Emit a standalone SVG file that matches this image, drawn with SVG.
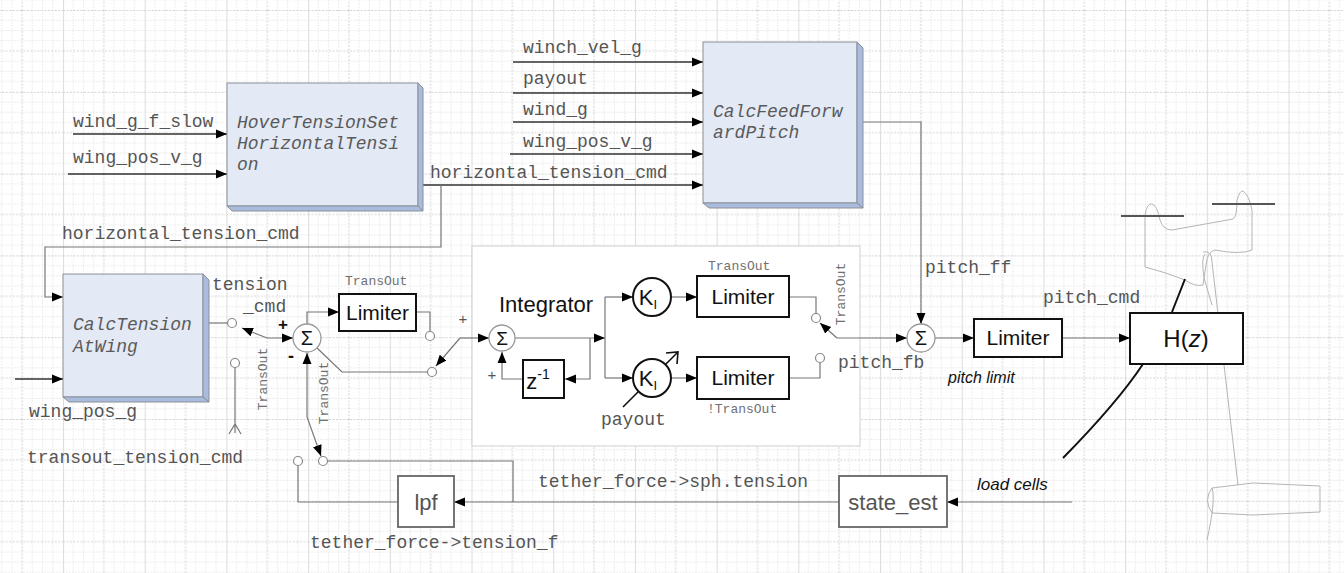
<svg xmlns="http://www.w3.org/2000/svg" width="1344" height="573" viewBox="0 0 1344 573">
  <defs>
    <!-- drafting grid: fine dotted cells, heavier dotted every 4 cells, light solid verticals every 8 -->
    <pattern id="grid" patternUnits="userSpaceOnUse" x="-18.7" y="10" width="81.7" height="81.8">
      <g stroke="#e6e6e6" stroke-width="1" stroke-dasharray="1.5,1.5">
        <path d="M10.2,0V81.8M20.4,0V81.8M30.6,0V81.8M51,0V81.8M61.3,0V81.8M71.5,0V81.8"/>
        <path d="M0,10.2H81.7M0,20.4H81.7M0,30.7H81.7M0,51.1H81.7M0,61.4H81.7M0,71.6H81.7"/>
      </g>
      <g stroke="#d2d2d2" stroke-width="1" stroke-dasharray="2,1.5">
        <path d="M40.85,0V81.8M0,0.5H81.7M0,40.9H81.7"/>
      </g>
      <path d="M0.5,0V81.8" stroke="#dedede" stroke-width="1.2"/>
    </pattern>
    <marker id="arr" markerUnits="userSpaceOnUse" markerWidth="12" markerHeight="10" refX="11" refY="5" orient="auto-start-reverse">
      <path d="M0,0.5 L11,5 L0,9.5 z" fill="#000"/>
    </marker>
  </defs>
  <style>
    .mono { font-family: "Liberation Mono", "Courier New", monospace; font-size: 18px; fill: #555; }
    .small { font-family: "Liberation Mono", "Courier New", monospace; font-size: 13px; fill: #707070; }
    .boxlbl { font-family: "Liberation Mono", "Courier New", monospace; font-size: 18px; font-style: italic; fill: #5a5a5a; }
    .sans { font-family: "Liberation Sans", Arial, sans-serif; fill: #111; }
    .grey { fill: #555; }
    .wire { fill: none; stroke: #777; stroke-width: 1.2; }
    .dark { fill: none; stroke: #333; stroke-width: 1.3; }
    .port { fill: #fff; stroke: #888; stroke-width: 1.2; }
    .blk { fill: #fff; stroke: #111; stroke-width: 2; }
    .gblk { fill: #fff; stroke: #666; stroke-width: 1.8; }
    .face { fill: #e3e9f5; stroke: #8a8f99; stroke-width: 1; }
    .bevel { fill: #a9bcdd; stroke: #8a8f99; stroke-width: 1; }
    .sum { fill: #fff; stroke: #999; stroke-width: 1.3; }
    .sketch { fill: none; stroke: #b5b5b5; stroke-width: 1; }
  </style>

  <rect x="0" y="0" width="1344" height="573" fill="#fff"/>
  <rect x="0" y="0" width="1344" height="573" fill="url(#grid)"/>

  <!-- integrator frame -->
  <rect id="integrator-frame" x="472" y="246" width="388" height="200" fill="#fff" stroke="#cfcfcf" stroke-width="1"/>

  <!-- kite and ground station sketch -->
  <g id="kite-sketch">
    <path class="sketch" d="M1145,267 V215 Q1147,203 1152,204 Q1157,205 1160,220 Q1163,230 1172,230 L1233,219 Q1237,217 1237,200 Q1240,190 1243,191 Q1249,195 1252,210 V250 Q1240,255 1215,250 Q1207,252 1206,265 L1203,285 Q1195,287 1185,280 Q1165,272 1145,267 z"/>
    <path class="sketch" d="M1203,252 Q1212,250 1212,262 L1238,485 M1205,254 Q1201,258 1204,278 L1212,305"/>
    <path d="M1121,216 H1184 M1212,204 H1275" stroke="#555" stroke-width="2"/>
    <path class="sketch" d="M1212,488 L1253,483 L1320,486 V512 L1253,515 L1212,513 M1212,488 Q1203,500 1212,513 M1212,488 Q1216,500 1207,540"/>
  </g>

  <!-- tether -->
  <path d="M1063,458 Q1118,402 1143,364 M1172,312 L1185,279" fill="none" stroke="#111" stroke-width="2"/>

  <g id="connectors">
    <path class="dark" d="M73,134 H227" marker-end="url(#arr)"/>
    <path class="dark" d="M68,174 H227" marker-end="url(#arr)"/>
    <path class="dark" d="M513,62 H703" marker-end="url(#arr)"/>
    <path class="dark" d="M513,93 H703" marker-end="url(#arr)"/>
    <path class="dark" d="M513,122 H703" marker-end="url(#arr)"/>
    <path class="dark" d="M510,154 H703" marker-end="url(#arr)"/>
    <path class="dark" d="M423,185 H703" marker-end="url(#arr)"/>
    <path class="wire" d="M441,185 V247 H45 V297 H63" marker-end="url(#arr)"/>
    <path class="dark" d="M15,379 H63" marker-end="url(#arr)"/>
    <path class="wire" d="M863,122 H921 V324" marker-end="url(#arr)"/>

    <!-- tension command path -->
    <path class="wire" d="M209,323 H228"/>
    <path class="wire" d="M242,328 L267,338 H293" marker-start="url(#arr)" marker-end="url(#arr)"/>
    <path class="wire" d="M235,367 V433 M229,434 L235,424 L241,434"/>
    <path class="wire" d="M307,324 V312 H339" marker-end="url(#arr)"/>
    <path class="wire" d="M416,312 H430 V332"/>
    <path class="wire" d="M317,348 L342,372 H428"/>
    <path class="wire" d="M460,338 L436,366" marker-end="url(#arr)"/>
    <path class="wire" d="M460,338 H489" marker-end="url(#arr)"/>
    <path class="wire" d="M307,353 V417 L321,456" marker-start="url(#arr)" marker-end="url(#arr)"/>
    <path class="wire" d="M298,465 V502 H398"/>
    <path class="wire" d="M327,461 H513 V502"/>
    <path class="wire" d="M839,502 H454" marker-end="url(#arr)"/>
    <path class="wire" d="M1072,502 H947" marker-end="url(#arr)"/>

    <!-- integrator internals -->
    <path class="wire" d="M515,338 H605" marker-end="url(#arr)"/>
    <path class="wire" d="M590,338 V379 H565" marker-end="url(#arr)"/>
    <path class="wire" d="M523,379 H502 V352" marker-end="url(#arr)"/>
    <path class="wire" d="M605,297 V378"/>
    <path class="wire" d="M605,297 H633" marker-end="url(#arr)"/>
    <path class="wire" d="M605,378 H633" marker-end="url(#arr)"/>
    <path class="wire" d="M671,297 H697" marker-end="url(#arr)"/>
    <path class="wire" d="M671,378 H697" marker-end="url(#arr)"/>
    <path class="wire" d="M789,297 H816 V314"/>
    <path class="wire" d="M789,378 H820 V362"/>
    <path class="wire" d="M837,338 L820,323" marker-end="url(#arr)"/>
    <path class="wire" d="M837,338 H907" marker-end="url(#arr)"/>
    <path d="M623,407 L678,352 M666,353 L678,352 L677,364" fill="none" stroke="#111" stroke-width="1.6"/>

    <!-- pitch output path -->
    <path class="wire" d="M935,338 H974" marker-end="url(#arr)"/>
    <path class="wire" d="M1062,338 H1130" marker-end="url(#arr)"/>

    <!-- switch contacts -->
    <circle class="port" cx="232" cy="323" r="4.5"/>
    <circle class="port" cx="235" cy="363" r="4.5"/>
    <circle class="port" cx="430" cy="336" r="4.5"/>
    <circle class="port" cx="432" cy="372" r="4.5"/>
    <circle class="port" cx="323" cy="461" r="4.5"/>
    <circle class="port" cx="298" cy="461" r="4.5"/>
    <circle class="port" cx="816" cy="318" r="4.5"/>
    <circle class="port" cx="820" cy="358" r="4.5"/>
  </g>

  <g id="hover-tension">
    <rect class="face" x="227" y="83" width="191" height="123"/>
    <polygon class="bevel" points="418,83 423,88 423,211 418,206"/>
    <polygon class="bevel" points="227,206 418,206 423,211 232,211"/>
    <text class="boxlbl" x="237" y="128">HoverTensionSet</text>
    <text class="boxlbl" x="237" y="149">HorizontalTensi</text>
    <text class="boxlbl" x="237" y="170">on</text>
  </g>

  <g id="feed-forward-pitch">
    <rect class="face" x="703" y="42" width="154" height="161"/>
    <polygon class="bevel" points="857,42 863,48 863,208 857,203"/>
    <polygon class="bevel" points="703,203 857,203 863,208 709,208"/>
    <text class="boxlbl" x="713" y="117">CalcFeedForw</text>
    <text class="boxlbl" x="713" y="138">ardPitch</text>
  </g>

  <g id="tension-at-wing">
    <rect class="face" x="63" y="274" width="140" height="123"/>
    <polygon class="bevel" points="203,274 209,280 209,402 203,397"/>
    <polygon class="bevel" points="63,397 203,397 209,402 69,402"/>
    <text class="boxlbl" x="73" y="330">CalcTension</text>
    <text class="boxlbl" x="73" y="352">AtWing</text>
  </g>

  <g id="tension-sum">
    <circle class="sum" cx="307" cy="338" r="14"/>
    <text class="sans" x="307" y="345" font-size="20" text-anchor="middle">Σ</text>
    <text class="sans" x="283" y="330" font-size="17" font-weight="bold" text-anchor="middle">+</text>
    <text class="sans" x="291" y="362" font-size="18" font-weight="bold" text-anchor="middle">-</text>
  </g>

  <g id="tension-limiter">
    <rect class="blk" x="339" y="294" width="77" height="37"/>
    <text class="sans" x="377.5" y="320" font-size="21" text-anchor="middle">Limiter</text>
  </g>

  <g id="integrator">
    <text class="sans" x="499" y="312" font-size="22">Integrator</text>
    <circle class="sum" cx="502" cy="338" r="13"/>
    <text class="sans" x="502" y="345" font-size="19" text-anchor="middle">Σ</text>
    <text class="sans grey" x="463" y="324" font-size="15" text-anchor="middle">+</text>
    <text class="sans grey" x="492" y="380" font-size="15" text-anchor="middle">+</text>
    <rect class="blk" x="523" y="360" width="41" height="38"/>
    <text class="sans" x="538" y="389" font-size="22" text-anchor="middle">z<tspan font-size="14" dy="-10">-1</tspan></text>
  </g>

  <g id="gain-fixed">
    <circle class="blk" cx="652" cy="297" r="19"/>
    <text class="sans" x="648" y="305" font-size="22" text-anchor="middle">K<tspan font-size="13" dy="4">I</tspan></text>
  </g>

  <g id="gain-scheduled">
    <circle class="blk" cx="652" cy="378" r="19"/>
    <text class="sans" x="648" y="386" font-size="22" text-anchor="middle">K<tspan font-size="13" dy="4">I</tspan></text>
  </g>

  <g id="fb-limiter-on">
    <rect class="blk" x="697" y="276" width="92" height="41"/>
    <text class="sans" x="743" y="304" font-size="21" text-anchor="middle">Limiter</text>
  </g>

  <g id="fb-limiter-off">
    <rect class="blk" x="697" y="357" width="92" height="42"/>
    <text class="sans" x="743" y="385" font-size="21" text-anchor="middle">Limiter</text>
  </g>

  <g id="pitch-sum">
    <circle class="sum" cx="921" cy="338" r="14"/>
    <text class="sans" x="921" y="345" font-size="20" text-anchor="middle">Σ</text>
  </g>

  <g id="pitch-limiter">
    <rect class="blk" x="974" y="319" width="88" height="38"/>
    <text class="sans" x="1018" y="345" font-size="21" text-anchor="middle">Limiter</text>
  </g>

  <g id="plant">
    <rect class="blk" x="1130" y="313" width="113" height="51"/>
    <text class="sans" x="1186" y="347" font-size="24" text-anchor="middle">H(<tspan font-style="italic">z</tspan>)</text>
  </g>

  <g id="lpf">
    <rect class="gblk" x="398" y="476" width="56" height="51"/>
    <text class="sans grey" x="426" y="510" font-size="22" text-anchor="middle">lpf</text>
  </g>

  <g id="state-est">
    <rect class="gblk" x="839" y="476" width="108" height="51"/>
    <text class="sans grey" x="893" y="510" font-size="22" text-anchor="middle">state_est</text>
  </g>

  <g id="labels">
    <text class="mono" x="73" y="127">wind_g_f_slow</text>
    <text class="mono" x="73" y="163">wing_pos_v_g</text>
    <text class="mono" x="430" y="178">horizontal_tension_cmd</text>
    <text class="mono" x="523" y="53">winch_vel_g</text>
    <text class="mono" x="523" y="84">payout</text>
    <text class="mono" x="523" y="115">wind_g</text>
    <text class="mono" x="523" y="147">wing_pos_v_g</text>
    <text class="mono" x="62" y="239">horizontal_tension_cmd</text>
    <text class="mono" x="212" y="290">tension</text>
    <text class="mono" x="243" y="312">_cmd</text>
    <text class="mono" x="29" y="417">wing_pos_g</text>
    <text class="mono" x="27" y="463">transout_tension_cmd</text>
    <text class="mono" x="538" y="487">tether_force-&gt;sph.tension</text>
    <text class="mono" x="310" y="548">tether_force-&gt;tension_f</text>
    <text class="mono" x="601" y="425">payout</text>
    <text class="mono" x="838" y="368">pitch_fb</text>
    <text class="mono" x="925" y="273">pitch_ff</text>
    <text class="mono" x="1043" y="303">pitch_cmd</text>
    <text class="small" x="345" y="285">TransOut</text>
    <text class="small" x="708" y="270">TransOut</text>
    <text class="small" x="707" y="413">!TransOut</text>
    <text class="small" transform="translate(267,379) rotate(-90)" text-anchor="middle">TransOut</text>
    <text class="small" transform="translate(328,393) rotate(-90)" text-anchor="middle">TransOut</text>
    <text class="small" transform="translate(845,294) rotate(-90)" text-anchor="middle">TransOut</text>
    <text class="sans" x="948" y="383" font-size="16" font-style="italic">pitch limit</text>
    <text class="sans" x="977" y="490" font-size="17" font-style="italic">load cells</text>
  </g>
</svg>
